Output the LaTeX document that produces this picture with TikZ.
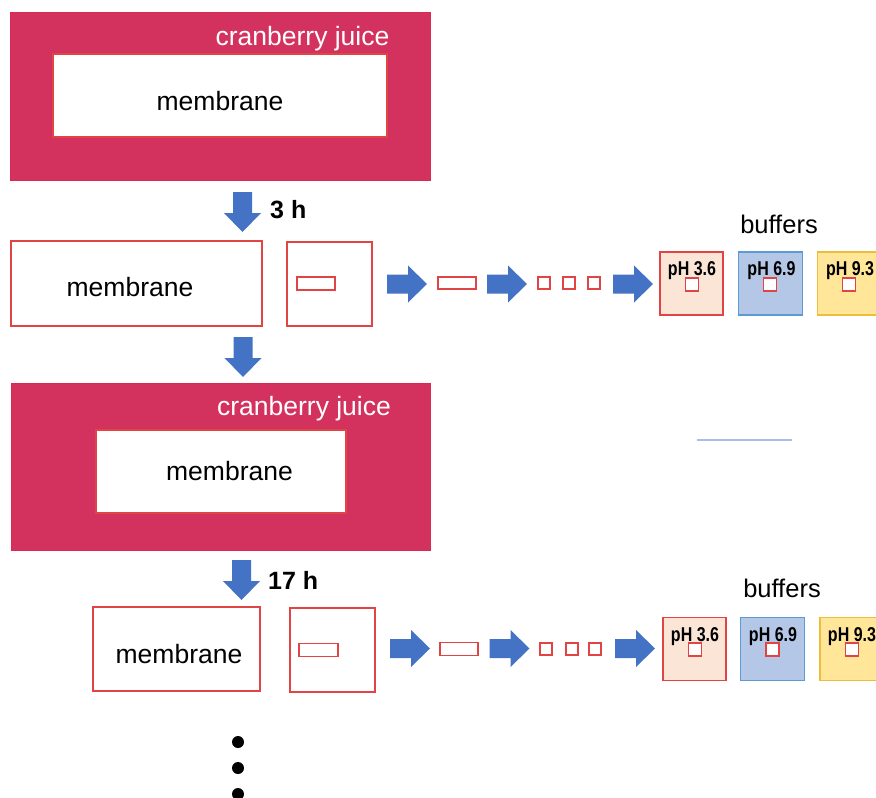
\documentclass[tikz,border=0pt]{standalone}
\usepackage{fontspec}
\setmainfont{Liberation Sans}
\newfontfamily\phfont{Liberation Sans}[FakeStretch=0.8]
\definecolor{cran}{HTML}{D3325E}
\definecolor{ablue}{HTML}{4472C4}
\definecolor{bred}{HTML}{E04444}
\definecolor{pinkf}{HTML}{FBE5D6}
\definecolor{bluef}{HTML}{B4C7E7}
\definecolor{blueb}{HTML}{5B9BD5}
\definecolor{yelf}{HTML}{FFE699}
\definecolor{yelb}{HTML}{EDBE3C}
\definecolor{lineblue}{HTML}{A9BFEA}
\tikzset{
  box/.style={rectangle, inner sep=0pt, anchor=center},
  juicebox/.style={box, fill=cran, draw=cran!85!red, line width=0.8pt},
  redbox/.style={box, fill=white, draw=bred, line width=1.4pt},
  smallbox/.style={box, fill=white, draw=bred, line width=1.8pt},
  juicetext/.style={text=white, font=\fontsize{26.5}{26.5}\selectfont, anchor=base, inner sep=0pt},
  memtext/.style={text=black, font=\fontsize{26.5}{26.5}\selectfont, anchor=base, inner sep=0pt},
  timetext/.style={text=black, font=\fontsize{25}{25}\selectfont\bfseries, anchor=base west, inner sep=0pt},
  buftext/.style={text=black, font=\fontsize{25.5}{25.5}\selectfont, anchor=base, inner sep=0pt},
  phtext/.style={text=black, font=\fontsize{20}{20}\phfont\bfseries, anchor=base, inner sep=0pt},
  bufA/.style={box, fill=pinkf, draw=bred, line width=1.4pt, minimum width=63pt, minimum height=63pt},
  bufB/.style={box, fill=bluef, draw=blueb, line width=1.4pt, minimum width=64pt, minimum height=63pt},
  bufC/.style={box, fill=yelf, draw=yelb, line width=1.4pt, minimum width=64pt, minimum height=63pt},
  barrow/.pic={\fill[ablue] (-20,-9.5) -- (1,-9.5) -- (1,-18.5) -- (20,0) -- (1,18.5) -- (1,9.5) -- (-20,9.5) -- cycle;},
  dot/.style={circle, fill=black, inner sep=0pt, minimum size=12pt}
}
\begin{document}
\begin{tikzpicture}[x=1pt,y=-1pt]
\clip (0,0) rectangle (876,798);
\fill[white] (0,0) rectangle (876,798);

% ---- first juice box
\node[juicebox, minimum width=420pt, minimum height=168pt] (j1) at (220,96) {};
\node[redbox, minimum width=334pt, minimum height=83pt, line width=1.2pt] (j1m) at (220,95.5) {};
\node[juicetext] (j1t) at (302.5,45) {cranberry juice};
\node[memtext] (j1mt) at (220,110) {membrane};

% ---- arrow 3 h
\pic at (242.5,212) [rotate=-90] {barrow};
\node[timetext] (t3) at (270,218) {3 h};

% ---- row 1
\node[redbox, minimum width=251pt, minimum height=85pt] (m1) at (136.5,283.5) {};
\node[memtext] (m1t) at (130,296) {membrane};
\node[redbox, minimum width=85pt, minimum height=84pt] (s1) at (329.5,284) {};
\node[smallbox, minimum width=38pt, minimum height=13pt] (s1r) at (316,283.5) {};
\pic at (407,284) {barrow};
\node[smallbox, minimum width=38pt, minimum height=12pt] (r1) at (457,283) {};
\pic at (507,284) {barrow};
\node[smallbox, minimum width=12pt, minimum height=12pt] (q1a) at (544,283) {};
\node[smallbox, minimum width=12pt, minimum height=12pt] (q1b) at (569,283) {};
\node[smallbox, minimum width=12pt, minimum height=12pt] (q1c) at (594,283) {};
\pic at (633,284) {barrow};
\node[buftext] (bf1) at (779,233) {buffers};
\node[bufA] (b1a) at (691.5,283.5) {};
\node[bufB] (b1b) at (770.5,283.5) {};
\node[bufC] (b1c) at (849.5,283.5) {};
\node[smallbox, minimum width=13pt, minimum height=13pt] (b1aq) at (692,284.5) {};
\node[smallbox, minimum width=13pt, minimum height=13pt] (b1bq) at (770,284.5) {};
\node[smallbox, minimum width=13pt, minimum height=13pt] (b1cq) at (849,284.5) {};
\node[phtext] (p1a) at (692,275) {pH 3.6};
\node[phtext] (p1b) at (771.5,275) {pH 6.9};
\node[phtext] (p1c) at (850,275) {pH 9.3};

% ---- arrow down
\pic at (243,357) [rotate=-90] {barrow};

% ---- second juice box
\node[juicebox, minimum width=419pt, minimum height=167pt] (j2) at (220.5,466.5) {};
\node[redbox, minimum width=250pt, minimum height=83pt, line width=1.2pt] (j2m) at (221,471.5) {};
\node[juicetext] (j2t) at (304,415) {cranberry juice};
\node[memtext] (j2mt) at (229.5,480) {membrane};

% ---- blue line
\coordinate (bl1) at (697,440);
\coordinate (bl2) at (792,440);
\draw[lineblue, line width=1.8pt] (bl1) -- (bl2);

% ---- arrow 17 h
\pic at (241.5,580) [rotate=-90] {barrow};
\node[timetext] (t17) at (268,589) {17 h};

% ---- row 2
\node[redbox, minimum width=167pt, minimum height=84pt] (m2) at (176.5,649) {};
\node[memtext] (m2t) at (179,663) {membrane};
\node[redbox, minimum width=85pt, minimum height=84pt] (s2) at (332.5,650) {};
\node[smallbox, minimum width=39pt, minimum height=13pt] (s2r) at (318.5,650) {};
\pic at (410,648.5) {barrow};
\node[smallbox, minimum width=38pt, minimum height=13pt] (r2) at (459,649) {};
\pic at (509.5,648.5) {barrow};
\node[smallbox, minimum width=12pt, minimum height=12pt] (q2a) at (546,649) {};
\node[smallbox, minimum width=12pt, minimum height=12pt] (q2b) at (572,649) {};
\node[smallbox, minimum width=12pt, minimum height=12pt] (q2c) at (595,649) {};
\pic at (635,648.5) {barrow};
\node[buftext] (bf2) at (782,597) {buffers};
\node[bufA] (b2a) at (694.5,649) {};
\node[bufB] (b2b) at (772.5,649) {};
\node[bufC] (b2c) at (852,649) {};
\node[smallbox, minimum width=13pt, minimum height=13pt] (b2aq) at (695,649.5) {};
\node[smallbox, minimum width=13pt, minimum height=13pt] (b2bq) at (772.5,649.5) {};
\node[smallbox, minimum width=13pt, minimum height=13pt] (b2cq) at (852,649.5) {};
\node[phtext] (p2a) at (695,641) {pH 3.6};
\node[phtext] (p2b) at (773,641) {pH 6.9};
\node[phtext] (p2c) at (852,641) {pH 9.3};

% ---- dots
\node[dot] (d1) at (238,742) {};
\node[dot] (d2) at (238,768) {};
\node[dot] (d3) at (238,794) {};
\end{tikzpicture}
\end{document}
